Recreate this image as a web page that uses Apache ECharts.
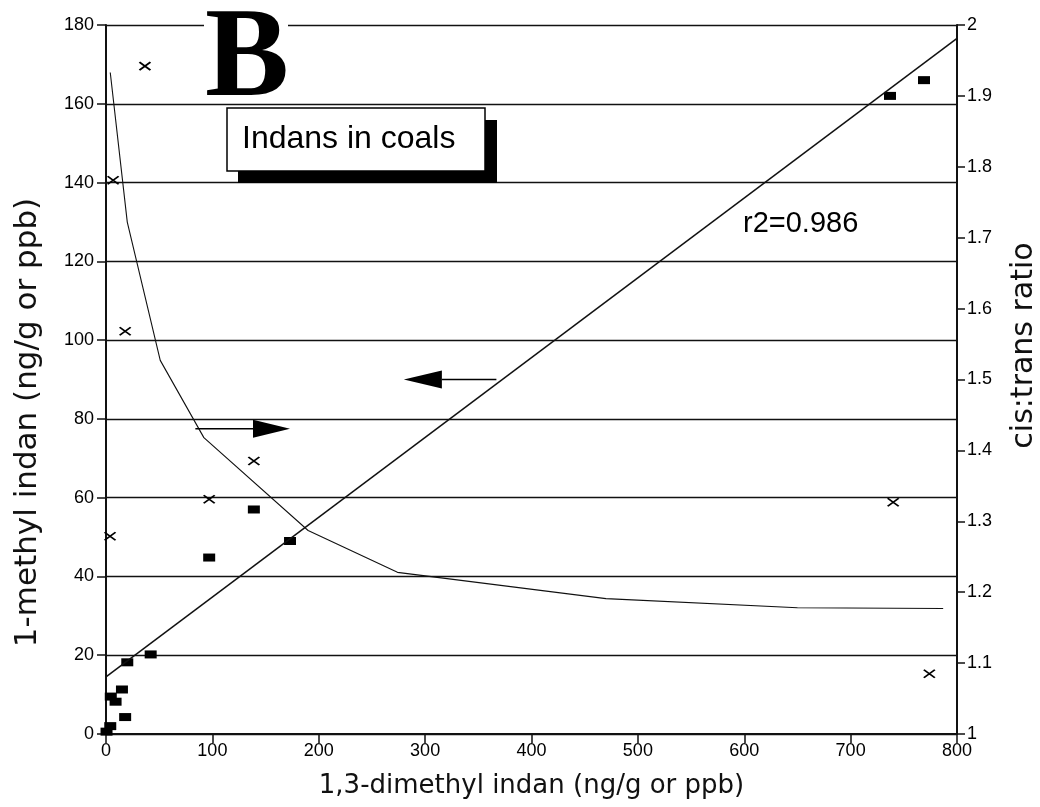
<!DOCTYPE html>
<html>
<head>
<meta charset="utf-8">
<script src="https://cdn.jsdelivr.net/npm/echarts@6/dist/echarts.min.js"></script>
<style>
  html, body { margin: 0; padding: 0; background: #fff; }
  #indans { width: 1040px; height: 807px; }
</style>
</head>
<body>
<div id="indans"></div>
<script>
// 1-methyl indan vs 1,3-dimethyl indan (filled squares, left axis)
var dimethylSq = [0.5, 4, 4.5, 9, 15, 18, 20, 42, 97, 139, 173, 737, 769];
var methylSq = [0.6, 2, 9.5, 8.2, 11.3, 4.3, 18.2, 20.2, 44.8, 57, 49, 162, 166];

// cis:trans ratio (crosses, right axis)
var dimethylX = [3.8, 6.7, 18, 36.6, 97, 139, 740, 774];
var ratioX = [1.279, 1.781, 1.568, 1.942, 1.331, 1.385, 1.327, 1.085];

// ratio trend curve (right axis)
var curveX = [4, 20, 51, 92, 190, 274, 470, 650, 787];
var curveRatio = [1.933, 1.722, 1.527, 1.418, 1.287, 1.228, 1.191, 1.178, 1.177];

// regression line (left axis)
var fitX = [0, 800];
var fitY = [14.5, 176.6];

function pairs(xs, ys) {
    return xs.map(function (x, i) { return [x, ys[i]]; });
}

var labelFont = {
    color: '#000',
    fontFamily: 'Liberation Sans',
    fontSize: 18
};

var chart = echarts.init(document.getElementById('indans'));

var option = {
    animation: false,
    backgroundColor: '#fff',
    grid: { left: 106, right: 83, top: 25, bottom: 73, outerBoundsMode: 'none', containLabel: false },
    xAxis: {
        type: 'value',
        min: 0,
        max: 800,
        interval: 100,
        name: '1,3-dimethyl indan (ng/g or ppb)',
        nameLocation: 'middle',
        nameGap: 39,
        nameTextStyle: { color: '#111', fontFamily: 'DejaVu Sans', fontSize: 26 },
        axisLine: { lineStyle: { color: '#111', width: 2 } },
        axisTick: { length: 9, lineStyle: { color: '#111', width: 1.5 } },
        axisLabel: Object.assign({ margin: 8 }, labelFont),
        splitLine: { show: false }
    },
    yAxis: [
        {
            type: 'value',
            min: 0,
            max: 180,
            interval: 20,
            name: '1-methyl indan (ng/g or ppb)',
            nameLocation: 'middle',
            nameRotate: 90,
            nameGap: 63,
            nameTextStyle: {
                color: '#111', fontFamily: 'DejaVu Sans', fontSize: 31,
                padding: [0, 86, 0, 0]
            },
            axisLine: { show: true, lineStyle: { color: '#111', width: 2 } },
            axisTick: { show: true, length: 9, lineStyle: { color: '#111', width: 1.5 } },
            axisLabel: Object.assign({ margin: 12 }, labelFont),
            splitLine: { show: true, lineStyle: { color: '#111', width: 1.4 } }
        },
        {
            type: 'value',
            position: 'right',
            min: 1,
            max: 2,
            interval: 0.1,
            name: 'cis:trans ratio',
            nameLocation: 'middle',
            nameRotate: 90,
            nameGap: 52,
            nameTextStyle: {
                color: '#111', fontFamily: 'DejaVu Sans', fontSize: 30,
                padding: [0, 0, 0, 68]
            },
            axisLine: { show: true, lineStyle: { color: '#111', width: 2 } },
            axisTick: { show: true, length: 8, lineStyle: { color: '#111', width: 1.5 } },
            axisLabel: Object.assign({
                margin: 10,
                formatter: function (v) { return String(+v.toFixed(1)); }
            }, labelFont),
            splitLine: { show: false }
        }
    ],
    series: [
        {
            name: 'regression',
            type: 'line',
            yAxisIndex: 0,
            data: pairs(fitX, fitY),
            showSymbol: false,
            silent: true,
            lineStyle: { color: '#111', width: 1.5 }
        },
        {
            name: 'cis:trans trend',
            type: 'line',
            yAxisIndex: 1,
            data: pairs(curveX, curveRatio),
            showSymbol: false,
            silent: true,
            lineStyle: { color: '#111', width: 1.1 }
        },
        {
            name: '1-methyl indan',
            type: 'scatter',
            yAxisIndex: 0,
            data: pairs(dimethylSq, methylSq),
            symbol: 'rect',
            symbolSize: [12, 8],
            itemStyle: { color: '#000', opacity: 1 }
        },
        {
            name: 'cis:trans ratio',
            type: 'scatter',
            yAxisIndex: 1,
            data: pairs(dimethylX, ratioX),
            symbol: 'path://M0,0L10,8M10,0L0,8',
            symbolSize: [11, 8],
            itemStyle: { color: 'none', borderColor: '#000', borderWidth: 1.7, opacity: 1 }
        }
    ]
};

chart.setOption(option);

// annotations, placed from data coordinates
function px(x, y) {
    return chart.convertToPixel({ gridIndex: 0 }, [x, y]);
}

function arrow(fromX, toX, y, headLen) {
    var a = px(fromX, y);
    var b = px(toX, y);
    var dir = b[0] > a[0] ? 1 : -1;
    var base = b[0] - dir * headLen;
    return [
        {
            type: 'line', z: 100,
            shape: { x1: a[0], y1: a[1], x2: base, y2: b[1] },
            style: { stroke: '#000', lineWidth: 1.5 }
        },
        {
            type: 'polygon', z: 100,
            shape: { points: [[b[0], b[1]], [base, b[1] - 9], [base, b[1] + 9]] },
            style: { fill: '#000' }
        }
    ];
}

var graphics = [
    // white patch behind the panel letter
    { type: 'rect', z: 100, shape: { x: 204, y: 14, width: 84, height: 22 }, style: { fill: '#fff' } },
    {
        type: 'text', z: 101, x: 205, y: 62,
        style: {
            text: 'B', fill: '#000', fontFamily: 'Liberation Serif', fontWeight: 'bold', fontSize: 126,
            align: 'left', verticalAlign: 'middle', textAlign: 'left', textVerticalAlign: 'middle'
        }
    },
    { type: 'rect', z: 100, shape: { x: 238, y: 120, width: 259, height: 63 }, style: { fill: '#000' } },
    {
        type: 'rect', z: 101, shape: { x: 227, y: 108, width: 258, height: 63 },
        style: { fill: '#fff', stroke: '#000', lineWidth: 1.5 }
    },
    {
        type: 'text', z: 102, x: 242, y: 139,
        style: {
            text: 'Indans in coals', fill: '#000', fontFamily: 'Liberation Sans', fontSize: 32,
            align: 'left', verticalAlign: 'middle', textAlign: 'left', textVerticalAlign: 'middle'
        }
    },
    {
        type: 'text', z: 102, x: 743, y: 224,
        style: {
            text: 'r2=0.986', fill: '#000', fontFamily: 'Liberation Sans', fontSize: 29,
            align: 'left', verticalAlign: 'middle', textAlign: 'left', textVerticalAlign: 'middle'
        }
    }
].concat(arrow(367, 280, 90, 38), arrow(84, 173, 77.5, 37));

chart.setOption({ graphic: graphics });
</script>
</body>
</html>
